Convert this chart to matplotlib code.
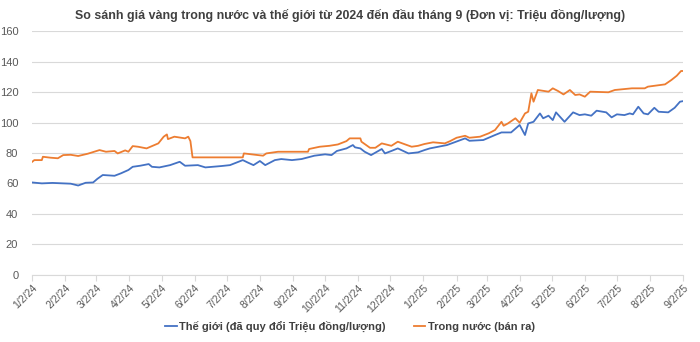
import matplotlib
matplotlib.use('Agg')
import matplotlib.pyplot as plt, numpy as np, pandas as pd

# Orange: domestic selling price (million VND / tael)
dom_dates = ['2024-01-02', '2024-01-04', '2024-01-11', '2024-01-12', '2024-01-19', '2024-01-26',
             '2024-01-31', '2024-02-07', '2024-02-14', '2024-02-23', '2024-03-05', '2024-03-11',
             '2024-03-19', '2024-03-22', '2024-03-29', '2024-04-01', '2024-04-05', '2024-04-10',
             '2024-04-18', '2024-04-29', '2024-05-04', '2024-05-07', '2024-05-08', '2024-05-14',
             '2024-05-24', '2024-05-27', '2024-05-29', '2024-05-31', '2024-07-17', '2024-07-18',
             '2024-08-05', '2024-08-08', '2024-08-19', '2024-09-16', '2024-09-17', '2024-09-27',
             '2024-10-06', '2024-10-14', '2024-10-22', '2024-10-25', '2024-11-04', '2024-11-05',
             '2024-11-13', '2024-11-18', '2024-11-24', '2024-11-28', '2024-12-03', '2024-12-09',
             '2024-12-16', '2024-12-22', '2024-12-28', '2025-01-03', '2025-01-11', '2025-01-22',
             '2025-01-27', '2025-02-02', '2025-02-10', '2025-02-14', '2025-02-24', '2025-03-04',
             '2025-03-10', '2025-03-16', '2025-03-18', '2025-03-22', '2025-03-29', '2025-04-02',
             '2025-04-07', '2025-04-10', '2025-04-13', '2025-04-15', '2025-04-19', '2025-04-29',
             '2025-05-03', '2025-05-08', '2025-05-13', '2025-05-19', '2025-05-24', '2025-05-28',
             '2025-06-02', '2025-06-07', '2025-06-24', '2025-06-30', '2025-07-16', '2025-07-28',
             '2025-07-31', '2025-08-16', '2025-08-22', '2025-08-27', '2025-08-31', '2025-09-02']
dom_vals = [74.2, 75.3, 75.3, 77.5, 76.9, 76.5,
            78.6, 78.8, 78.0, 79.5, 81.9, 80.8,
            81.3, 79.7, 81.7, 80.8, 84.5, 84.1,
            83.0, 86.3, 90.7, 92.2, 89.1, 90.7,
            89.6, 90.7, 87.8, 77.1, 77.1, 79.7,
            78.2, 79.7, 80.8, 80.8, 82.6, 84.1,
            84.7, 85.6, 87.8, 89.6, 89.6, 87.4,
            83.4, 83.4, 86.3, 85.6, 84.7, 87.4,
            85.6, 84.1, 84.7, 85.9, 87.0, 86.3,
            87.8, 90.0, 91.3, 90.0, 90.7, 92.9,
            95.1, 100.5, 97.9, 99.4, 102.8, 99.9,
            106.0, 107.1, 119.2, 113.7, 121.4, 120.3,
            122.5, 120.7, 118.5, 121.4, 118.1, 118.5,
            117.0, 120.3, 119.9, 121.4, 122.5, 122.5,
            123.6, 125.1, 128.0, 130.8, 133.9, 133.9]

# Blue: world price converted
world_dates = ['2024-01-02', '2024-01-11', '2024-01-21', '2024-01-31', '2024-02-07', '2024-02-14',
               '2024-02-21', '2024-02-28', '2024-03-03', '2024-03-08', '2024-03-19', '2024-03-25',
               '2024-04-01', '2024-04-05', '2024-04-12', '2024-04-20', '2024-04-23', '2024-04-30',
               '2024-05-10', '2024-05-19', '2024-05-24', '2024-06-05', '2024-06-12', '2024-06-27',
               '2024-07-05', '2024-07-13', '2024-07-17', '2024-07-22', '2024-07-27', '2024-08-02',
               '2024-08-07', '2024-08-16', '2024-08-22', '2024-09-01', '2024-09-10', '2024-09-22',
               '2024-10-02', '2024-10-08', '2024-10-13', '2024-10-22', '2024-10-28', '2024-10-30',
               '2024-11-04', '2024-11-08', '2024-11-14', '2024-11-24', '2024-11-27', '2024-12-03',
               '2024-12-09', '2024-12-19', '2024-12-28', '2025-01-03', '2025-01-08', '2025-01-16',
               '2025-01-24', '2025-01-31', '2025-02-10', '2025-02-14', '2025-02-27', '2025-03-10',
               '2025-03-16', '2025-03-25', '2025-04-02', '2025-04-07', '2025-04-10', '2025-04-15',
               '2025-04-21', '2025-04-24', '2025-04-29', '2025-05-03', '2025-05-06', '2025-05-14',
               '2025-05-22', '2025-05-28', '2025-06-02', '2025-06-08', '2025-06-13', '2025-06-22',
               '2025-06-27', '2025-07-02', '2025-07-09', '2025-07-14', '2025-07-17', '2025-07-22',
               '2025-07-27', '2025-07-31', '2025-08-06', '2025-08-10', '2025-08-19', '2025-08-25',
               '2025-08-30', '2025-09-02']
world_vals = [60.6, 60.0, 60.3, 60.0, 59.8, 58.6,
              60.4, 60.6, 63.0, 65.5, 65.0, 66.6,
              68.8, 70.9, 71.6, 72.7, 70.9, 70.5,
              72.0, 74.2, 71.6, 72.0, 70.5, 71.4,
              72.0, 74.2, 75.3, 73.6, 72.0, 74.7,
              72.0, 75.3, 76.0, 75.3, 76.0, 78.2,
              79.1, 78.6, 81.3, 83.0, 85.2, 83.7,
              83.0, 80.8, 78.6, 82.6, 79.7, 81.3,
              83.0, 79.7, 80.4, 81.9, 83.0, 84.1,
              85.2, 87.0, 89.6, 88.0, 88.5, 91.8,
              93.5, 93.5, 98.4, 91.8, 99.4, 100.5,
              106.0, 102.8, 104.5, 101.6, 106.7, 100.5,
              106.7, 104.9, 105.4, 104.5, 107.8, 106.7,
              103.4, 105.4, 104.9, 106.0, 105.4, 110.4,
              106.0, 105.4, 109.7, 107.1, 106.7, 109.7,
              113.7, 114.1]

title = 'So sánh giá vàng trong nước và thế giới từ 2024 đến đầu tháng 9 (Đơn vị: Triệu đồng/lượng)'
world_label = 'Thế giới (đã quy đổi Triệu đồng/lượng)'
dom_label = 'Trong nước (bán ra)'

dom_dt = pd.to_datetime(dom_dates)
world_dt = pd.to_datetime(world_dates)
tick_dates = pd.date_range('2024-01-01', '2025-09-01', freq='MS') + pd.Timedelta(days=1)
tick_labels = [f'{d.month}/{d.day}/{d.year % 100}' for d in tick_dates]

plt.rcParams['font.family'] = ['Liberation Sans', 'DejaVu Sans']
grey = '#595959'

fig = plt.figure(figsize=(7, 3.42), dpi=100)
ax = fig.add_axes([0.046, 0.197, 0.930, 0.7115])
ax.plot(world_dt, world_vals, color='#4472C4', lw=1.3, label=world_label)
ax.plot(dom_dt, dom_vals, color='#ED7D31', lw=1.3, label=dom_label)

ax.set_ylim(0, 160)
ax.set_yticks(np.arange(0, 161, 20))
ax.set_xlim(tick_dates[0], tick_dates[-1])
ax.set_xticks(tick_dates)
ax.set_xticklabels(tick_labels, rotation=45, ha='right', rotation_mode='anchor')
ax.grid(axis='y', color='#D9D9D9', lw=0.8)
ax.set_axisbelow(True)
for s in ['top', 'right', 'left']:
    ax.spines[s].set_visible(False)
ax.spines['bottom'].set_color('#D9D9D9')
ax.tick_params(axis='y', length=0, labelsize=8, labelcolor=grey, pad=10)
ax.tick_params(axis='x', length=4, color='#D9D9D9', labelsize=7.5, labelcolor=grey, pad=2)

fig.suptitle(title, x=0.5, y=0.975, fontsize=8.9, fontweight='bold', color='#404040')
fig.legend(loc='lower center', bbox_to_anchor=(0.5, 0.0), ncol=2, frameon=False,
           prop={'size': 8, 'weight': 'bold'}, handlelength=1.0, columnspacing=2.6,
           handletextpad=0.2, labelcolor='#404040')

fig.savefig('out.png', dpi=100)
